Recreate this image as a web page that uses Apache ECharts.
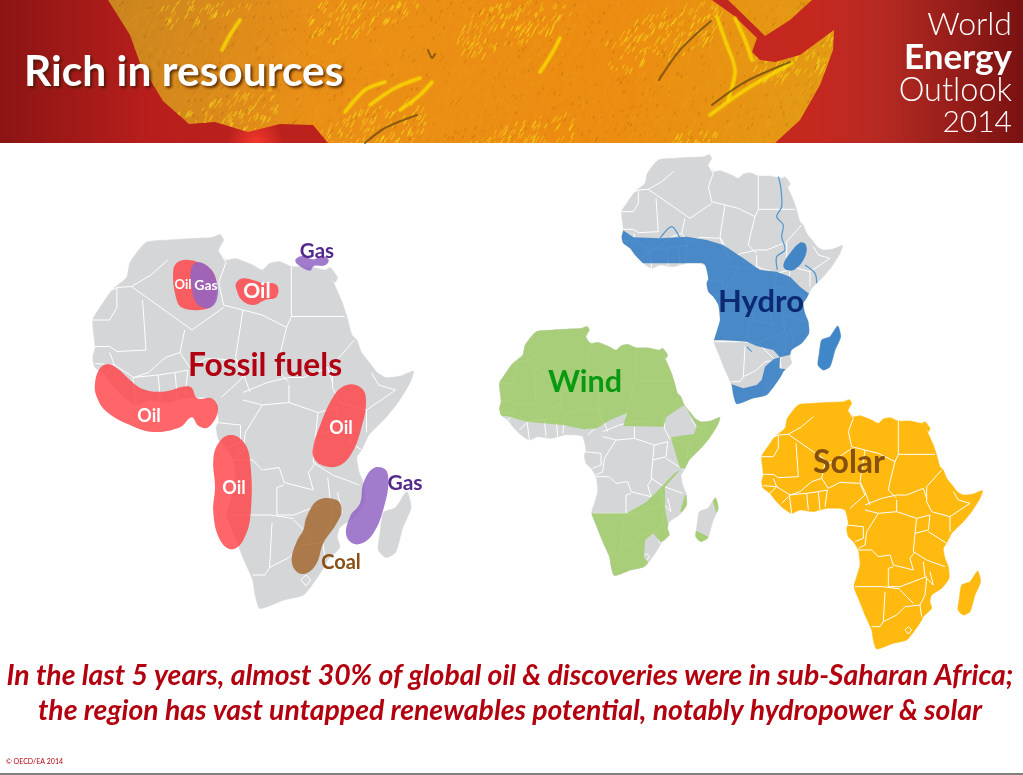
<!DOCTYPE html>
<html>
<head>
<meta charset="utf-8">
<title>Rich in resources</title>
<script src="https://cdn.jsdelivr.net/npm/echarts@6/dist/echarts.min.js"></script>
<style>
html, body { margin: 0; padding: 0; background: #fff; }
#main { width: 1023px; height: 775px; }
</style>
</head>
<body>
<div id="main"></div>
<script>
// map outline (map units, same for all four maps)
var coast = [[145,30],[190,25],[240,22],[280,20],[298,14],[305,25],[295,45],[310,65],[330,62],[365,75],[385,85],[400,72],[420,68],[445,78],[480,78],[515,85],[525,80],[540,100],[535,110],[527,98],[550,150],[560,180],[570,215],[580,225],[590,250],[610,275],[622,290],[640,300],[670,297],[697,287],[690,310],[665,350],[640,380],[605,415],[590,445],[580,460],[585,490],[595,515],[597,550],[575,580],[545,600],[540,620],[545,640],[520,665],[512,680],[495,705],[470,735],[430,745],[380,762],[370,735],[365,705],[345,660],[325,610],[312,575],[320,545],[330,510],[325,465],[310,440],[295,425],[290,400],[295,385],[285,345],[265,340],[230,340],[190,350],[150,345],[125,355],[100,340],[75,315],[60,295],[40,280],[35,260],[40,240],[35,185],[50,160],[75,125],[105,100],[112,70]];
var madagascar = [[683,528],[692,560],[675,600],[660,650],[640,660],[624,645],[628,610],[635,570],[660,560]];
var borders = [
    [[190,65],[155,95],[115,118],[85,120],[75,125]],
    [[85,120],[85,160],[70,185],[35,185]],
    [[115,118],[190,170],[240,205],[305,160]],
    [[138,145],[145,245],[85,248],[70,238],[40,238]],
    [[225,205],[215,250],[185,260],[150,290],[120,300]],
    [[295,45],[310,70],[295,110],[305,155],[385,175],[435,200]],
    [[445,78],[445,178],[435,200],[420,260],[415,285],[440,310]],
    [[445,178],[555,178]],
    [[345,165],[330,260],[345,290],[360,330]],
    [[235,280],[270,262],[330,265],[345,300],[300,340]],
    [[345,330],[395,310],[440,300],[470,300],[520,280],[530,310]],
    [[575,225],[530,275],[530,320],[545,350],[600,365],[660,325],[625,315],[610,290]],
    [[600,365],[600,410]],
    [[500,370],[540,360],[535,405],[495,415],[500,370]],
    [[345,345],[385,355],[440,350],[500,370]],
    [[440,350],[440,315]],
    [[385,355],[350,410],[345,450],[325,460]],
    [[290,390],[340,395],[340,430],[315,440]],
    [[535,410],[590,445]],
    [[495,415],[490,470],[530,495],[585,515]],
    [[325,465],[365,465],[385,485],[420,480],[430,510],[490,525],[480,490],[495,470]],
    [[430,515],[415,520],[415,575]],
    [[315,575],[400,575],[450,582]],
    [[415,575],[450,575],[490,560],[530,545]],
    [[520,500],[525,545],[550,570],[540,530]],
    [[530,550],[525,600],[510,630]],
    [[405,590],[400,680],[390,695],[365,695]],
    [[400,680],[440,660],[465,635],[510,630],[515,665]],
    [[450,585],[490,625]],
    [[465,705],[475,695],[485,705],[475,717],[465,705]],
    [[40,272],[80,275],[70,250]],
    [[60,295],[80,275],[120,300]],
    [[95,325],[115,305]],
    [[125,355],[118,300],[170,295],[175,345]],
    [[170,295],[205,290],[210,345]],
    [[205,290],[232,285],[225,335]],
    [[215,250],[235,280]]
];

// fossil fuel areas, in the units of the fossil overlay
var oilAreas = [
    [[45,490],[60,445],[85,432],[115,448],[150,480],[190,508],[250,515],[330,500],[352,535],[395,535],[414,570],[385,622],[355,617],[335,592],[300,622],[220,636],[150,615],[80,575],[50,530]],
    [[280,150],[300,123],[350,125],[395,150],[410,200],[400,250],[375,268],[310,265],[290,240]],
    [[468,190],[490,175],[545,188],[590,195],[590,230],[555,240],[520,255],[485,240],[470,210]],
    [[700,680],[715,630],[760,530],[800,495],[845,505],[858,545],[845,620],[815,700],[775,738],[725,735],[700,710]],
    [[400,720],[415,670],[450,645],[490,665],[510,720],[512,880],[490,960],[455,988],[420,960],[400,880],[405,800]]
];
var gasAreas = [
    [[333,150],[350,127],[385,140],[410,185],[410,240],[385,265],[350,250],[335,200]],
    [[646,122],[665,108],[700,118],[725,108],[746,120],[735,136],[702,138],[690,152],[665,142]],
    [[850,790],[880,745],[915,748],[925,780],[915,850],[880,940],[835,973],[800,950],[810,890],[840,850]]
];
var coalAreas = [
    [[680,890],[715,840],[770,840],[785,870],[770,910],[730,970],[710,1030],[680,1060],[650,1055],[635,1020],[650,965],[670,930]]
];

// hydro and wind zones, the coast cuts them off
var hydroZones = [
    [[10,238],[35,238],[70,262],[150,265],[230,260],[290,270],[340,285],[400,325],[450,360],[500,365],[540,380],[570,410],[595,430],[640,440],[640,640],[550,612],[510,622],[490,600],[440,588],[410,575],[340,570],[280,570],[280,340],[10,340]],
    [[510,622],[490,628],[465,650],[455,690],[440,705],[400,715],[365,703],[340,700],[340,790],[540,790],[540,660],[508,655]]
];
var hydroBlob = [[520,345],[540,310],[570,278],[588,285],[585,320],[555,358],[530,360]];
var rivers = [
    [[505,80],[512,110],[515,170],[500,200],[520,225],[515,260],[525,300],[500,320],[502,360]],
    [[150,265],[185,230],[210,265]],
    [[585,345],[615,370],[620,400]],
    [[410,590],[425,605]]
];
var windZones = [
    [[0,285],[57,283],[117,300],[227,310],[287,323],[327,320],[367,295],[417,275],[407,313],[527,315],[537,285],[585,253],[720,235],[720,-20],[0,-20]],
    [[592,253],[627,313],[619,337],[549,347],[577,440],[620,445],[730,445],[730,253]],
    [[297,575],[417,575],[477,540],[517,500],[562,453],[577,445],[532,495],[532,565],[547,635],[552,650],[517,660],[497,635],[472,655],[469,705],[487,730],[477,785],[297,785]],
    [[577,570],[592,520],[607,520],[607,570]]
];
var windMadagascar = [
    [[670,520],[700,520],[700,575],[685,570]],
    [[610,620],[662,645],[667,680],[610,680]]
];

// banner artwork, in picture pixels
var bannerBox = [[0,0],[1023,0],[1023,143],[0,143]];
var bannerLand = [[108,0],[130,35],[140,63],[163,101],[189,124],[215,122],[248,132],[280,124],[313,125],[328,143],[775,143],[800,120],[820,85],[833,50],[834,30],[800,55],[775,62],[760,60],[752,52],[757,38],[733,15],[712,0]];
var bannerArabia = [[728,0],[812,0],[790,20],[765,36],[757,28]];
var bannerYellow = [
    [[240,20],[230,35],[222,50]],[[345,112],[365,90],[385,82]],[[370,105],[395,88],[420,78]],
    [[400,110],[420,95],[432,82]],[[540,72],[548,60],[555,48],[560,38]],
    [[717,17],[725,40],[735,70],[728,100]],[[710,115],[745,90],[792,63]],[[735,18],[745,40],[752,60]]
];
var bannerDark = [
    [[365,143],[385,128],[417,115]],[[659,80],[680,50],[711,21]],[[712,105],[745,82],[790,62]],
    [[428,50],[432,58],[435,54]]
];

// text of the slide
var oilLabels = ['Oil', 'Oil', 'Oil', 'Oil', 'Oil'];
var gasLabels = ['Gas', 'Gas', 'Gas'];
var mapTitles = ['Fossil fuels', 'Hydro', 'Wind', 'Solar'];
var bannerWords = ['World', 'Energy', 'Outlook', '2014'];
var slideTitle = 'Rich in resources';
var takeaway = [
    'In the last 5 years, almost 30% of global oil & discoveries were in sub-Saharan Africa;',
    'the region has vast untapped renewables potential, notably hydropower & solar'
];
var copyright = '\u00a9 OECD/EA 2014';

var FONT = 'Lato, "Open Sans", sans-serif';
var myChart = echarts.init(document.getElementById('main'), null, { renderer: 'canvas' });

// the relief of the banner: orange ground with short sunlit and shaded flecks
function reliefTexture() {
    var c = document.createElement('canvas');
    c.width = 1023;
    c.height = 143;
    var ctx = c.getContext('2d');
    var g = ctx.createLinearGradient(100, 0, 850, 80);
    g.addColorStop(0, '#c98420');
    g.addColorStop(0.3, '#ea8f16');
    g.addColorStop(0.7, '#ec8c10');
    g.addColorStop(1, '#e29c14');
    ctx.fillStyle = g;
    ctx.fillRect(0, 0, 1023, 143);
    ctx.lineCap = 'round';
    for (var i = 0; i < 5200; i++) {
        var x = (i * 197.31) % 1023;
        var y = (i * 61.73 + i * i * 0.013) % 143;
        var len = 2 + (i % 5);
        var strong = Math.sin(x / 47) * Math.cos((x + y * 3) / 61) > 0.3;
        ctx.strokeStyle = i % 5 === 0 ? 'rgba(120,70,10,0.2)'
            : (strong ? 'rgba(250,225,30,0.5)' : 'rgba(250,180,40,0.14)');
        ctx.lineWidth = i % 3 === 0 ? 1.5 : 1;
        ctx.beginPath();
        ctx.moveTo(x, y);
        ctx.lineTo(x - len * 0.55, y + len);
        ctx.stroke();
    }
    return c;
}

function hiddenAxes(axis, max, inverse) {
    return max.map(function (m, i) {
        return { gridIndex: i, type: 'value', min: 0, max: m[axis], show: false, inverse: inverse };
    });
}

// index of the grid each drawing goes to
var BANNER = 0, FOSSIL = 1, FOSSIL_AREAS = 2, HYDRO = 3, WIND = 4, SOLAR = 5;
var grids = [
    { left: 0, top: 0, width: 1023, height: 143 },
    { left: 75.7, top: 227.5, width: 349, height: 390 },
    { left: 80, top: 220, width: 350, height: 400 },
    { left: 610, top: 150, width: 240, height: 260 },
    { left: 487.7, top: 321.7, width: 240, height: 260 },
    { left: 750, top: 395, width: 240, height: 260 }
];
var ranges = [[1023,143],[720,780],[1050,1200],[720,780],[720,780],[720,780]];

function pixelsOf(api, pts) {
    return pts.map(function (p) { return api.coord(p); });
}

// filled polygons through the axes of one grid, optionally cut by an outline
function areas(grid, polys, style, opts) {
    opts = opts || {};
    return {
        type: 'custom',
        xAxisIndex: grid,
        yAxisIndex: grid,
        silent: true,
        clip: false,
        z: opts.z || 2,
        data: polys.map(function (p, i) { return [i]; }),
        renderItem: function (params, api) {
            var el = {
                type: 'polygon',
                shape: { points: pixelsOf(api, polys[params.dataIndex]), smooth: opts.smooth || 0 },
                style: style
            };
            if (opts.clip) {
                el.clipPath = { type: 'polygon', shape: { points: pixelsOf(api, opts.clip), smooth: 0.2 } };
            }
            return el;
        }
    };
}

function lines(grid, paths, style, z, smooth) {
    return {
        type: 'custom',
        xAxisIndex: grid,
        yAxisIndex: grid,
        silent: true,
        clip: false,
        z: z || 3,
        data: paths.map(function (p, i) { return [i]; }),
        renderItem: function (params, api) {
            return {
                type: 'polyline',
                shape: { points: pixelsOf(api, paths[params.dataIndex]), smooth: smooth || 0 },
                style: style
            };
        }
    };
}

function africa(grid, fill) {
    return [
        areas(grid, [coast, madagascar], { fill: fill, stroke: fill, lineWidth: 0.5 }, { smooth: 0.2 }),
        lines(grid, borders, { stroke: '#fff', lineWidth: 1, fill: null }, 3)
    ];
}

var GREY = '#d4d6d8';
var series = [
    areas(BANNER, [bannerBox], { fill: new echarts.graphic.LinearGradient(0, 0, 1, 0, [
        { offset: 0, color: '#8c1414' }, { offset: 0.15, color: '#b81f1c' },
        { offset: 0.8, color: '#c4281f' }, { offset: 0.86, color: '#b62a22' }, { offset: 1, color: '#7a1212' }
    ]) }, { z: 1 }),
    areas(BANNER, [bannerBox], { fill: {
        type: 'radial', x: 0.25, y: 1, r: 0.2, global: false,
        colorStops: [{ offset: 0, color: 'rgba(245,55,45,1)' }, { offset: 1, color: 'rgba(245,55,45,0)' }]
    } }, { z: 1 }),
    areas(BANNER, [bannerLand, bannerArabia], { fill: { image: reliefTexture(), repeat: 'no-repeat' } }, { z: 2 }),
    lines(BANNER, bannerYellow, { stroke: 'rgba(250,225,0,0.6)', lineWidth: 3.5, fill: null, lineCap: 'round', shadowBlur: 3, shadowColor: 'rgba(250,225,0,0.7)' }, 3, 0.3),
    lines(BANNER, bannerDark, { stroke: 'rgba(95,65,15,0.7)', lineWidth: 2, fill: null, lineCap: 'round' }, 4, 0.3)
];
series = series.concat(africa(FOSSIL, GREY), africa(HYDRO, GREY), africa(WIND, GREY), africa(SOLAR, '#ffb90f'));

series.push(areas(FOSSIL_AREAS, oilAreas, { fill: 'rgba(255,62,68,0.8)' }, { z: 4, smooth: 0.4 }));
series.push(areas(FOSSIL_AREAS, gasAreas, { fill: 'rgba(146,100,196,0.85)' }, { z: 5, smooth: 0.4 }));
series.push(areas(FOSSIL_AREAS, coalAreas, { fill: 'rgba(165,105,50,0.85)' }, { z: 5, smooth: 0.4 }));

series.push(areas(HYDRO, hydroZones, { fill: 'rgba(50,125,196,0.86)' }, { z: 4, clip: coast }));
series.push(areas(HYDRO, [hydroBlob], { fill: 'rgba(50,125,196,0.9)' }, { z: 4, smooth: 0.4 }));
series.push(areas(HYDRO, [madagascar], { fill: '#3f87c8', stroke: '#3f87c8', lineWidth: 0.5 }, { z: 4, smooth: 0.2 }));
series.push(lines(HYDRO, rivers, { stroke: '#4f96cf', lineWidth: 1.2, fill: null }, 5, 0.3));

series.push(areas(WIND, windZones, { fill: 'rgba(162,205,108,0.88)' }, { z: 4, clip: coast }));
series.push(areas(WIND, windMadagascar, { fill: '#a6ce74' }, { z: 4, clip: madagascar }));

function label(text, x, y, size, color, extra) {
    var style = {
        text: text, x: x, y: y,
        font: 'bold ' + size + 'px ' + FONT,
        fill: color, textAlign: 'center', textVerticalAlign: 'middle'
    };
    for (var k in extra) style[k] = extra[k];
    return { type: 'text', z: 100, silent: true, style: style };
}

var graphics = [
    label(slideTitle, 24, 72, 42.5, '#fff', { textAlign: 'left', textShadowColor: 'rgba(60,20,0,0.8)', textShadowBlur: 3, textShadowOffsetX: 2, textShadowOffsetY: 2 }),
    label(bannerWords[0], 1012, 25, 32, '#fff', { textAlign: 'right', font: '300 32px ' + FONT }),
    label(bannerWords[1], 1012, 58, 35, '#fff', { textAlign: 'right' }),
    label(bannerWords[2], 1012, 91, 32.5, '#fff', { textAlign: 'right', font: '300 32.5px ' + FONT }),
    label(bannerWords[3], 1012, 122, 30, '#fff', { textAlign: 'right', font: '300 30px ' + FONT }),

    label(mapTitles[0], 265, 366, 31.7, '#b00012'),
    label(mapTitles[1], 761, 302, 31, '#0b2a72'),
    label(mapTitles[2], 585, 382, 30.5, '#0a9a12'),
    label(mapTitles[3], 849, 463, 32, '#86500f'),

    label(oilLabels[0], 149, 416, 18, '#fff'),
    label(oilLabels[1], 183, 285, 13, '#fff'),
    label(oilLabels[2], 257, 291, 21, '#fff'),
    label(oilLabels[3], 341, 428, 18, '#fff'),
    label(oilLabels[4], 234, 488, 18, '#fff'),
    label(gasLabels[0], 206, 285, 14, '#fff'),
    label(gasLabels[1], 317, 251, 20.5, '#55288c'),
    label(gasLabels[2], 405, 483, 21, '#55288c'),
    label('Coal', 341, 563, 20, '#8a4f14'),

    label(takeaway[0], 510, 676, 28.4, '#b2000f', { font: 'italic bold 28.4px ' + FONT }),
    label(takeaway[1], 510, 711, 28.4, '#b2000f', { font: 'italic bold 28.4px ' + FONT }),
    label(copyright, 6, 762, 7, '#b2000f', { textAlign: 'left', font: '7px ' + FONT }),
    { type: 'rect', z: 100, silent: true, shape: { x: 0, y: 773, width: 1023, height: 2 }, style: { fill: '#808080' } }
];

var option = {
    animation: false,
    backgroundColor: '#fff',
    tooltip: { show: false },
    grid: grids,
    xAxis: hiddenAxes(0, ranges, false),
    yAxis: hiddenAxes(1, ranges, true),
    series: series,
    graphic: graphics
};
myChart.setOption(option);
</script>
</body>
</html>
